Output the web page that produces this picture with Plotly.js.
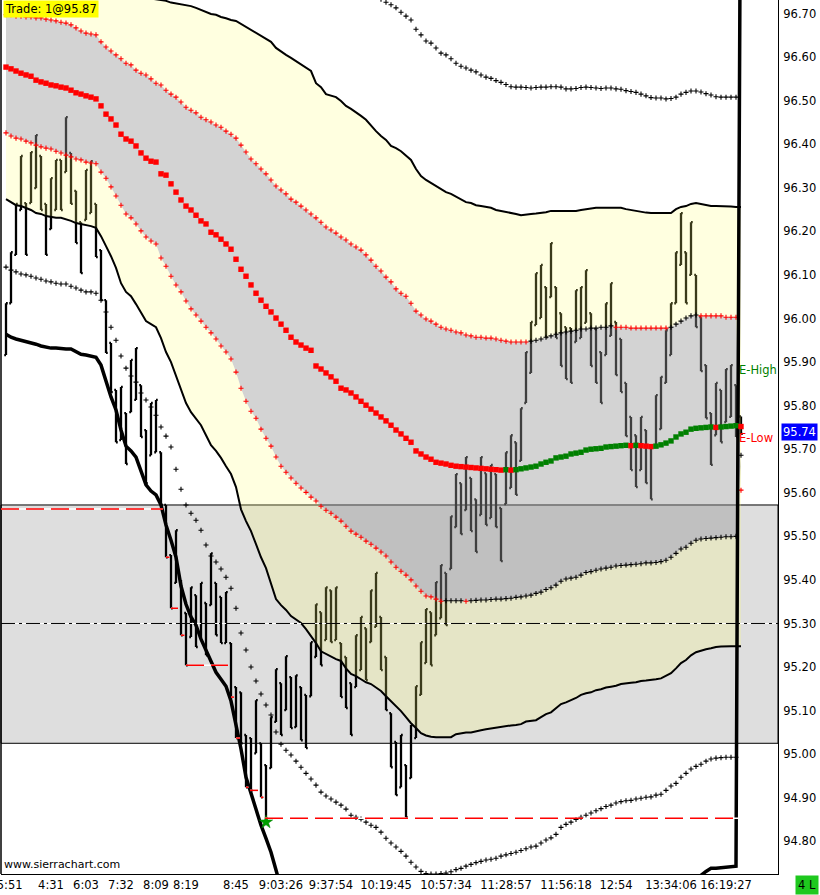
<!DOCTYPE html>
<html>
<head>
<meta charset="utf-8">
<script src="https://cdn.plot.ly/plotly-3.0.1.min.js"></script>
<style>
  html, body { margin: 0; padding: 0; background: #fff; }
  #chart { width: 820px; height: 895px; }
</style>
</head>
<body>
<div id="chart"></div>
<script>
/* Range-bar chart with bands.
   Bars are indexed 0..147 (one every 5 px); prices in points. */

const timeTickBars = [0, 9, 16, 23, 30, 36, 46, 55, 65, 76, 88, 100, 112, 122, 133, 144];
const timeLabels = ['15:51', '4:31', '6:03', '7:32', '8:09', '8:19', '8:45', '9:03:26', '9:37:54',
  '10:19:45', '10:57:34', '11:28:57', '11:56:18', '12:54', '13:34:06', '16:19:27'];

const barHigh = [96.035,96.152,96.263,96.373,96.265,96.382,96.421,96.373,96.263,96.322,
  96.364,96.364,96.462,96.380,96.293,96.221,96.341,96.361,96.263,96.157,
  96.042,95.944,95.836,95.843,95.783,95.905,95.932,95.847,95.744,95.806,
  95.813,95.693,95.572,95.457,95.514,95.400,95.324,95.383,95.365,95.393,
  95.347,95.461,95.393,95.361,95.372,95.255,95.154,95.142,95.044,95.037,
  95.124,95.025,94.975,95.085,95.195,95.163,95.225,95.177,95.181,95.154,
  95.136,95.257,95.344,95.326,95.383,95.376,95.383,95.255,95.223,95.163,
  95.273,95.315,95.289,95.376,95.416,95.315,95.223,95.094,95.028,95.044,
  94.975,95.067,95.156,95.257,95.333,95.326,95.395,95.434,95.416,95.546,
  95.643,95.622,95.682,95.634,95.585,95.682,95.645,95.664,95.643,95.565,
  95.693,95.732,95.716,95.794,95.923,95.992,96.104,96.123,96.072,96.173,
  96.072,96.012,95.980,95.978,96.065,96.072,96.111,96.012,95.976,95.923,
  96.035,96.081,95.992,95.953,95.852,95.774,95.732,95.774,95.744,95.705,
  95.824,95.866,95.973,96.035,96.152,96.242,96.152,96.221,96.100,96.003,
  95.893,95.783,95.852,95.836,95.884,95.893,95.847,95.775];

const barLow = [95.916,96.035,96.146,96.249,96.146,96.265,96.299,96.249,96.146,96.205,
  96.249,96.249,96.336,96.263,96.173,96.104,96.226,96.242,96.141,96.042,
  95.921,95.831,95.716,95.721,95.666,95.785,95.813,95.728,95.622,95.686,
  95.693,95.572,95.452,95.335,95.393,95.273,95.204,95.269,95.246,95.269,
  95.227,95.342,95.273,95.255,95.255,95.131,95.037,95.025,94.924,94.917,
  95.002,94.901,94.853,94.968,95.074,95.044,95.101,95.060,95.062,95.032,
  95.014,95.133,95.223,95.204,95.262,95.257,95.262,95.131,95.106,95.044,
  95.154,95.193,95.170,95.257,95.292,95.193,95.101,94.970,94.906,94.924,
  94.855,94.945,95.037,95.136,95.209,95.204,95.273,95.312,95.296,95.425,
  95.521,95.505,95.560,95.512,95.464,95.549,95.526,95.542,95.521,95.443,
  95.574,95.611,95.595,95.673,95.806,95.875,95.985,96.001,95.957,96.049,
  95.955,95.891,95.861,95.852,95.946,95.955,95.990,95.891,95.852,95.806,
  95.916,95.960,95.870,95.831,95.730,95.652,95.613,95.652,95.622,95.585,
  95.705,95.746,95.852,95.916,96.035,96.123,96.035,96.100,95.980,95.879,
  95.771,95.664,95.732,95.716,95.762,95.774,95.728,95.735];

// 1 = bar closed at its high, -1 = closed at its low
const barDir = [1,1,1,1,-1,1,1,-1,-1,1, 1,-1,1,-1,-1,-1,1,1,-1,-1,
  -1,-1,-1,1,-1,1,1,-1,-1,1, 1,-1,-1,-1,1,-1,-1,1,-1,1,
  -1,1,-1,-1,1,-1,-1,-1,-1,-1, 1,-1,-1,1,1,-1,1,-1,1,-1,
  -1,1,1,-1,1,-1,1,-1,-1,-1, 1,1,-1,1,1,-1,-1,-1,-1,1,
  -1,1,1,1,1,-1,1,1,-1,1, 1,-1,1,-1,-1,1,-1,1,-1,-1,
  1,1,-1,1,1,1,1,1,-1,1, -1,-1,-1,-1,1,1,1,-1,-1,-1,
  1,1,-1,-1,-1,-1,-1,1,-1,-1, 1,1,1,1,1,1,-1,1,-1,-1,
  -1,-1,1,-1,1,1,-1,-1];

const upperOuter = [96.846,96.841,96.837,96.832,96.827,96.823,96.818,96.814,96.809,96.804,
  96.800,96.795,96.791,96.786,96.782,96.777,96.772,96.768,96.763,96.759,
  96.754,96.752,96.749,96.747,96.745,96.742,96.740,96.738,96.736,96.734,
  96.733,96.731,96.729,96.725,96.723,96.721,96.720,96.717,96.713,96.708,
  96.703,96.699,96.697,96.692,96.689,96.685,96.683,96.676,96.669,96.662,
  96.655,96.648,96.641,96.635,96.621,96.612,96.605,96.598,96.591,96.584,
  96.577,96.568,96.540,96.531,96.515,96.511,96.508,96.499,96.488,96.481,
  96.474,96.465,96.456,96.442,96.430,96.419,96.410,96.396,96.391,96.384,
  96.375,96.364,96.343,96.327,96.318,96.311,96.302,96.295,96.290,96.286,
  96.279,96.274,96.267,96.265,96.260,96.258,96.256,96.254,96.249,96.247,
  96.244,96.242,96.240,96.237,96.239,96.240,96.241,96.242,96.244,96.247,
  96.247,96.247,96.247,96.247,96.247,96.249,96.251,96.252,96.254,96.254,
  96.254,96.254,96.254,96.254,96.251,96.249,96.247,96.244,96.243,96.242,
  96.242,96.242,96.242,96.242,96.251,96.256,96.258,96.263,96.265,96.263,
  96.260,96.258,96.258,96.258,96.258,96.257,96.256,96.256];

const upperInner = [96.697,96.697,96.694,96.694,96.692,96.692,96.690,96.690,96.687,96.685,
  96.683,96.680,96.678,96.674,96.667,96.660,96.655,96.653,96.651,96.635,
  96.623,96.614,96.605,96.596,96.586,96.582,96.570,96.563,96.559,96.550,
  96.540,96.536,96.524,96.515,96.508,96.497,96.485,96.478,96.472,96.462,
  96.456,96.451,96.444,96.439,96.430,96.423,96.414,96.398,96.382,96.366,
  96.355,96.343,96.332,96.318,96.304,96.295,96.286,96.274,96.267,96.258,
  96.249,96.240,96.231,96.221,96.210,96.203,96.196,96.187,96.180,96.171,
  96.164,96.157,96.146,96.134,96.120,96.109,96.095,96.084,96.068,96.058,
  96.051,96.035,96.017,96.008,95.999,95.994,95.987,95.980,95.976,95.973,
  95.969,95.967,95.962,95.960,95.957,95.957,95.955,95.955,95.953,95.950,
  95.948,95.946,95.946,95.946,95.946,95.948,95.950,95.953,95.957,95.960,
  95.964,95.967,95.969,95.971,95.973,95.976,95.976,95.978,95.978,95.980,
  95.980,95.983,95.980,95.980,95.980,95.978,95.978,95.978,95.978,95.978,
  95.978,95.978,95.978,95.980,95.987,95.994,96.001,96.006,96.008,96.006,
  96.006,96.006,96.006,96.006,96.003,96.003,96.003,95.606];

const midLine = [96.577,96.573,96.568,96.563,96.559,96.556,96.547,96.543,96.540,96.536,
  96.534,96.531,96.529,96.524,96.518,96.515,96.511,96.508,96.504,96.488,
  96.469,96.458,96.444,96.423,96.412,96.407,96.396,96.380,96.368,96.361,
  96.359,96.332,96.329,96.309,96.290,96.272,96.258,96.249,96.237,96.224,
  96.217,96.198,96.192,96.182,96.171,96.159,96.136,96.113,96.097,96.077,
  96.058,96.042,96.028,96.015,96.001,95.987,95.973,95.957,95.946,95.939,
  95.932,95.927,95.891,95.884,95.875,95.866,95.856,95.840,95.836,95.829,
  95.820,95.810,95.801,95.792,95.783,95.774,95.765,95.755,95.744,95.735,
  95.725,95.716,95.696,95.689,95.682,95.677,95.670,95.668,95.666,95.663,
  95.661,95.660,95.659,95.658,95.657,95.656,95.655,95.654,95.653,95.652,
  95.653,95.652,95.653,95.655,95.657,95.659,95.661,95.666,95.670,95.673,
  95.680,95.682,95.684,95.689,95.691,95.693,95.698,95.700,95.701,95.702,
  95.705,95.706,95.707,95.708,95.709,95.708,95.709,95.708,95.707,95.706,
  95.707,95.710,95.714,95.719,95.728,95.735,95.739,95.746,95.748,95.749,
  95.750,95.751,95.750,95.751,95.752,95.753,95.754,95.752];

const lowerInner = [96.426,96.419,96.414,96.412,96.407,96.403,96.398,96.394,96.391,96.389,
  96.384,96.380,96.375,96.371,96.366,96.364,96.359,96.357,96.355,96.336,
  96.322,96.302,96.281,96.260,96.240,96.231,96.217,96.201,96.187,96.178,
  96.171,96.139,96.120,96.097,96.077,96.061,96.040,96.022,96.008,95.994,
  95.980,95.967,95.953,95.937,95.923,95.907,95.877,95.840,95.810,95.787,
  95.771,95.746,95.725,95.707,95.682,95.661,95.647,95.634,95.622,95.611,
  95.601,95.590,95.581,95.569,95.560,95.553,95.544,95.535,95.523,95.512,
  95.505,95.498,95.489,95.482,95.473,95.464,95.455,95.441,95.429,95.420,
  95.411,95.400,95.386,95.374,95.363,95.361,95.356,95.351,95.352,95.352,
  95.352,95.352,95.351,95.352,95.353,95.354,95.354,95.355,95.356,95.356,
  95.357,95.358,95.360,95.361,95.363,95.365,95.369,95.372,95.378,95.382,
  95.388,95.397,95.402,95.404,95.406,95.411,95.417,95.419,95.422,95.425,
  95.427,95.429,95.432,95.433,95.434,95.435,95.436,95.437,95.439,95.439,
  95.440,95.442,95.445,95.452,95.461,95.471,95.475,95.484,95.491,95.494,
  95.495,95.496,95.497,95.498,95.499,95.499,95.500,95.686];

const lowerOuter = [96.274,96.267,96.260,96.258,96.254,96.249,96.242,96.240,96.235,96.233,
  96.231,96.231,96.228,96.224,96.219,96.217,96.215,96.212,96.208,96.189,
  96.166,96.143,96.116,96.081,96.061,96.051,96.033,96.012,95.994,95.987,
  95.980,95.955,95.923,95.900,95.868,95.833,95.806,95.785,95.771,95.755,
  95.732,95.709,95.696,95.680,95.661,95.643,95.613,95.562,95.535,95.512,
  95.482,95.452,95.427,95.390,95.356,95.342,95.331,95.317,95.308,95.301,
  95.287,95.271,95.255,95.236,95.230,95.223,95.218,95.214,95.197,95.184,
  95.179,95.172,95.165,95.161,95.154,95.145,95.133,95.122,95.110,95.099,
  95.085,95.071,95.060,95.048,95.043,95.040,95.039,95.039,95.039,95.039,
  95.046,95.048,95.050,95.050,95.053,95.055,95.057,95.059,95.060,95.062,
  95.064,95.066,95.067,95.069,95.075,95.077,95.078,95.085,95.092,95.096,
  95.106,95.115,95.119,95.124,95.129,95.136,95.140,95.142,95.147,95.149,
  95.153,95.155,95.157,95.161,95.163,95.164,95.165,95.168,95.169,95.170,
  95.172,95.174,95.180,95.186,95.197,95.209,95.216,95.227,95.234,95.238,
  95.241,95.243,95.246,95.247,95.248,95.248,95.248,95.248];

// heavy average: visible from bar 0 to 56, then again from bar 138
const heavyAvgHead = [95.964,95.957,95.953,95.950,95.948,95.946,95.941,95.937,95.934,95.932,
  95.932,95.930,95.930,95.930,95.923,95.918,95.916,95.914,95.911,95.893,
  95.856,95.820,95.790,95.744,95.707,95.696,95.682,95.652,95.618,95.604,
  95.595,95.572,95.526,95.491,95.452,95.386,95.344,95.315,95.296,95.264,
  95.237,95.211,95.188,95.172,95.156,95.122,95.067,95.012,94.947,94.911,
  94.871,94.837,94.807,94.775,94.734,94.692,94.653];
const heavyAvgTailStart = 138;
const heavyAvgTail = [94.706,94.722,94.731,94.738,94.738,94.739,94.741,94.741,94.743,97.305];

// outer dotted envelope
const dotLower = [96.118,96.111,96.107,96.102,96.100,96.097,96.093,96.090,96.086,96.084,
  96.081,96.079,96.079,96.074,96.070,96.065,96.061,96.061,96.058,96.042,
  96.015,95.980,95.950,95.914,95.886,95.868,95.854,95.829,95.813,95.797,
  95.778,95.751,95.730,95.705,95.654,95.608,95.572,95.553,95.537,95.514,
  95.480,95.455,95.441,95.425,95.406,95.381,95.335,95.278,95.239,95.200,
  95.168,95.138,95.113,95.090,95.051,95.023,95.009,94.998,94.984,94.970,
  94.956,94.943,94.929,94.913,94.904,94.897,94.890,94.883,94.874,94.860,
  94.855,94.851,94.844,94.837,94.832,94.821,94.807,94.796,94.787,94.777,
  94.766,94.752,94.741,94.731,94.726,94.725,94.725,94.726,94.727,94.730,
  94.735,94.738,94.743,94.747,94.751,94.754,94.757,94.759,94.761,94.766,
  94.769,94.772,94.775,94.779,94.783,94.787,94.789,94.796,94.803,94.808,
  94.816,94.832,94.839,94.844,94.850,94.855,94.860,94.865,94.870,94.875,
  94.880,94.883,94.888,94.891,94.893,94.894,94.897,94.899,94.901,94.902,
  94.906,94.908,94.917,94.927,94.933,94.947,94.956,94.966,94.972,94.977,
  94.984,94.989,94.991,94.992,94.993,94.993,94.993];
const dotUpperStart = 75;
const dotUpper = [96.733,96.726,96.720,96.713,96.703,96.694,96.685,96.664,96.651,96.637,
  96.632,96.621,96.609,96.605,96.596,96.586,96.579,96.575,96.570,96.566,
  96.559,96.554,96.551,96.546,96.542,96.537,96.532,96.531,96.531,96.530,
  96.529,96.530,96.531,96.531,96.532,96.532,96.531,96.527,96.527,96.528,
  96.530,96.531,96.530,96.529,96.528,96.529,96.529,96.527,96.526,96.523,
  96.521,96.519,96.515,96.511,96.507,96.506,96.506,96.504,96.505,96.508,
  96.515,96.519,96.522,96.522,96.520,96.516,96.513,96.509,96.508,96.508,
  96.508,96.508];

// swing-low extension lines: from bar, to bar, level
const lowLineFrom  = [-1, 32, 33, 35, 36, 45, 46, 48, 48.8, 51, 51.8];
const lowLineTo    = [31.4, 32.7, 34.4, 35.7, 44.4, 45.6, 46.8, 48.5, 50.4, 51.5, 146.4];
const lowLineLevel = [95.5625, 95.452, 95.335, 95.273, 95.204, 95.131, 95.037, 94.924, 94.917, 94.901, 94.853];

const zoneTop = 95.572, zoneBottom = 95.025, pivotLevel = 95.30;
const lastPrice = 95.74, extHigh = 95.882, extLow = 95.725;
const tradeBar = 52, tradePrice = 94.844;

const RED = '#ff0000', GREEN = '#008000', BLACK = '#000000';
const FONT = 'DejaVu Sans, Verdana, sans-serif';

function slopeColors(vals, upC, downC, startC) {
  let c = startC;
  return vals.map((v, i) => {
    if (i > 0 && v != null && vals[i - 1] != null) {
      if (v > vals[i - 1]) c = upC;
      else if (v < vals[i - 1]) c = downC;
    }
    return c;
  });
}

const bars = barHigh.map((_, i) => i);
const open = bars.map(i => barDir[i] > 0 ? barLow[i] : barHigh[i]);
const close = bars.map(i => barDir[i] > 0 ? barHigh[i] : barLow[i]);

const heavy = bars.map(() => null);
heavyAvgHead.forEach((v, k) => { heavy[k] = v; });
heavyAvgTail.forEach((v, k) => { heavy[heavyAvgTailStart + k] = v; });

const upColors = slopeColors(upperInner, BLACK, RED, RED);
const loColors = slopeColors(lowerInner, BLACK, RED, RED);
const midColors = slopeColors(midLine, GREEN, RED, RED);

function crossDots(x, y, colors, name) {
  return { type: 'scatter', mode: 'markers', name: name, x: x, y: y, hoverinfo: 'skip',
    marker: { symbol: 'cross-thin', size: 3.6, color: colors, line: { width: 1.1, color: colors } } };
}

const traces = [
  { type: 'ohlc', x: bars, open: open, high: barHigh, low: barLow, close: close,
    line: { width: 2.3 },
    increasing: { line: { color: BLACK, width: 2.3 } }, decreasing: { line: { color: BLACK, width: 2.3 } },
    tickwidth: 0.35, hoverinfo: 'skip', showlegend: false },
  { type: 'scatter', mode: 'lines', x: bars, y: upperOuter, hoverinfo: 'skip',
    line: { color: BLACK, width: 2 } },
  { type: 'scatter', mode: 'none', x: bars, y: upperInner, fill: 'tonexty',
    fillcolor: 'rgba(255,255,119,0.227)', hoverinfo: 'skip' },
  { type: 'scatter', mode: 'none', x: bars, y: lowerInner, fill: 'tonexty',
    fillcolor: 'rgba(151,151,151,0.42)', hoverinfo: 'skip' },
  { type: 'scatter', mode: 'lines', x: bars, y: lowerOuter, fill: 'tonexty',
    fillcolor: 'rgba(255,255,119,0.227)', hoverinfo: 'skip', line: { color: BLACK, width: 2 } },
  crossDots(bars.slice(0, dotLower.length), dotLower, BLACK, 'dotLower'),
  crossDots(dotUpper.map((_, k) => dotUpperStart + k), dotUpper, BLACK, 'dotUpper'),
  crossDots(bars, upperInner, upColors, 'upperInner'),
  crossDots(bars, lowerInner, loColors, 'lowerInner'),
  { type: 'scatter', mode: 'lines', x: bars, y: heavy, connectgaps: false, hoverinfo: 'skip',
    line: { color: BLACK, width: 3.5 } },
  { type: 'scatter', mode: 'markers', x: bars, y: midLine, hoverinfo: 'skip',
    marker: { symbol: 'square', size: 5.4, color: midColors, line: { width: 0 } } },
  { type: 'scatter', mode: 'markers', x: [tradeBar], y: [tradePrice], hoverinfo: 'skip',
    marker: { symbol: 'star', size: 10, color: '#00a000', line: { color: GREEN, width: 0.5 } } }
];

const shapes = [
  { type: 'rect', layer: 'below', xref: 'paper', x0: 0, x1: 1, yref: 'y', y0: zoneBottom, y1: zoneTop,
    fillcolor: '#dedede', line: { color: BLACK, width: 1 } },
  { type: 'line', layer: 'above', xref: 'paper', x0: 0, x1: 0, yref: 'paper', y0: 0, y1: 1,
    line: { color: BLACK, width: 1.5 } },
  { type: 'line', layer: 'above', xref: 'paper', x0: 0, x1: 1, yref: 'y', y0: pivotLevel, y1: pivotLevel,
    line: { color: '#ffffff', width: 1 } },
  { type: 'line', layer: 'above', xref: 'paper', x0: 0, x1: 1, yref: 'y', y0: pivotLevel, y1: pivotLevel,
    line: { color: BLACK, width: 1, dash: '14px,4px,3px,4px' } }
];
lowLineLevel.forEach((lv, k) => {
  shapes.push({ type: 'line', layer: 'above', xref: 'x', x0: lowLineFrom[k], x1: lowLineTo[k],
    yref: 'y', y0: lv, y1: lv, line: { color: '#ffffff', width: 1.5 } });
  shapes.push({ type: 'line', layer: 'above', xref: 'x', x0: lowLineFrom[k], x1: lowLineTo[k],
    yref: 'y', y0: lv, y1: lv, line: { color: RED, width: 1.5, dash: '18px,7px' } });
});

const annotations = [
  { xref: 'paper', yref: 'paper', x: 0, y: 1, xanchor: 'left', yanchor: 'top', showarrow: false,
    text: 'Trade: 1@95.87', bgcolor: '#ffff00', borderpad: 1, xshift: 2,
    font: { family: FONT, size: 11.5, color: BLACK } },
  { xref: 'paper', yref: 'paper', x: 0, y: 0, xanchor: 'left', yanchor: 'bottom', showarrow: false,
    text: 'www.sierrachart.com', xshift: 1, yshift: 1, font: { family: FONT, size: 11, color: BLACK } },
  { xref: 'x', yref: 'y', x: 146.2, y: extHigh, xanchor: 'left', yanchor: 'middle', showarrow: false,
    text: 'E-High', font: { family: FONT, size: 11.5, color: GREEN } },
  { xref: 'x', yref: 'y', x: 146.2, y: extLow, xanchor: 'left', yanchor: 'middle', showarrow: false,
    text: 'E-Low', font: { family: FONT, size: 11.5, color: RED } },
  { xref: 'paper', yref: 'y', x: 1, y: lastPrice, xanchor: 'left', yanchor: 'middle', showarrow: false,
    text: lastPrice.toFixed(2), bgcolor: '#0000ff', borderpad: 1, xshift: 3,
    font: { family: FONT, size: 11.5, color: '#ffffff' } },
  { xref: 'paper', yref: 'paper', x: 1, y: 0, xanchor: 'left', yanchor: 'top', showarrow: false,
    text: '4 L', bgcolor: '#1ec81e', borderpad: 2, xshift: 17, yshift: -1,
    font: { family: FONT, size: 11.5, color: BLACK } }
];

const layout = {
  width: 820, height: 895,
  margin: { l: 1, r: 42, t: 0, b: 21 },
  paper_bgcolor: '#ffffff', plot_bgcolor: '#ffffff',
  showlegend: false, dragmode: false,
  font: { family: FONT, size: 11.5, color: BLACK },
  xaxis: {
    range: [-1, 154.4], autorange: false, rangeslider: { visible: false },
    tickmode: 'array', tickvals: timeTickBars, ticktext: timeLabels,
    ticklabeloverflow: 'allow',
    showgrid: false, zeroline: false, showline: true, linecolor: BLACK, linewidth: 1,
    ticks: '', tickfont: { family: FONT, size: 11.5, color: BLACK }
  },
  yaxis: {
    side: 'right', range: [94.725, 96.731], autorange: false,
    tick0: 94.8, dtick: 0.1, tickformat: '.2f',
    showgrid: false, zeroline: false, showline: true, linecolor: BLACK, linewidth: 1,
    ticks: 'outside', ticklen: 2, tickcolor: '#ffffff',
    tickfont: { family: FONT, size: 11.5, color: BLACK }
  },
  shapes: shapes,
  annotations: annotations
};

Plotly.newPlot('chart', traces, layout, { displayModeBar: false, staticPlot: true });
</script>
</body>
</html>
